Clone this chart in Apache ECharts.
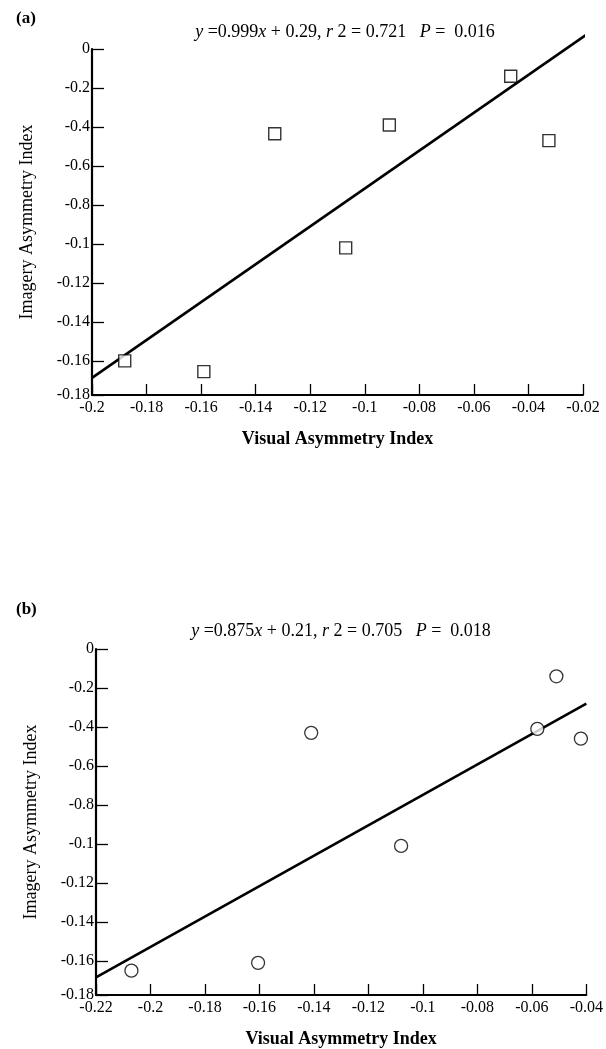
<!DOCTYPE html>
<html>
<head>
<meta charset="utf-8">
<script src="https://cdn.jsdelivr.net/npm/echarts@6/dist/echarts.min.js"></script>
<style>
html,body{margin:0;padding:0;background:#fff;}
#c{width:606px;height:1049px;}
</style>
</head>
<body>
<div id="c"></div>
<script>
// ---- data ----
var panelLabels = ['(a)', '(b)'];
var yTickValues = [0, -0.02, -0.04, -0.06, -0.08, -0.10, -0.12, -0.14, -0.16, -0.1775];
var yTickLabels = ['0', '-0.2', '-0.4', '-0.6', '-0.8', '-0.1', '-0.12', '-0.14', '-0.16', '-0.18'];
var xTickLabelsA = ['-0.2', '-0.18', '-0.16', '-0.14', '-0.12', '-0.1', '-0.08', '-0.06', '-0.04', '-0.02'];
var xTickLabelsB = ['-0.22', '-0.2', '-0.18', '-0.16', '-0.14', '-0.12', '-0.1', '-0.08', '-0.06', '-0.04'];
var xMinA = -0.2, xMaxA = -0.02;
var xMinB = -0.22, xMaxB = -0.04;
var pointsA = [[-0.188, -0.160], [-0.159, -0.1655], [-0.133, -0.0435], [-0.091, -0.039], [-0.107, -0.102], [-0.0465, -0.014], [-0.0325, -0.047]];
var fitA = [[-0.2, -0.1687], [-0.0155, 0.0105]];
var pointsB = [[-0.207, -0.165], [-0.1605, -0.161], [-0.141, -0.043], [-0.108, -0.101], [-0.058, -0.041], [-0.051, -0.014], [-0.042, -0.046]];
var fitB = [[-0.22, -0.1685], [-0.04, -0.028]];
var titles = [
  ['y', ' =0.999', 'x', ' + 0.29, ', 'r', ' 2 = 0.721   ', 'P', ' =  0.016'],
  ['y', ' =0.875', 'x', ' + 0.21, ', 'r', ' 2 = 0.705   ', 'P', ' =  0.018']
];
var xName = 'Visual Asymmetry Index';
var yName = 'Imagery Asymmetry Index';

// ---- chart ----
var FONT = '"Liberation Serif", "DejaVu Serif", serif';
var chart = echarts.init(document.getElementById('c'), null, {renderer: 'canvas'});

function titleText(parts) {
  var s = '';
  for (var i = 0; i < parts.length; i++) {
    s += (i % 2 === 0 ? '{i|' : '{n|') + parts[i] + '}';
  }
  return s;
}
function nearestLabel(v) {
  var best = 0, d = 1e9;
  for (var i = 0; i < yTickValues.length; i++) {
    var dd = Math.abs(yTickValues[i] - v);
    if (dd < d) { d = dd; best = i; }
  }
  return yTickLabels[best];
}
function xLabelFn(labels, min) {
  return function (v) {
    var idx = Math.round((v - min) / 0.02);
    return labels[idx] !== undefined ? labels[idx] : '';
  };
}

var grids = [
  {left: 92, top: 49, width: 491, height: 346},
  {left: 96, top: 649, width: 491, height: 347}
];

function xAxis(gi, min, max, labels) {
  return {
    type: 'value', gridIndex: gi, min: min, max: max, interval: 0.02,
    name: xName, nameLocation: 'middle', nameGap: 35,
    nameTextStyle: {fontFamily: FONT, fontSize: 18, color: '#000', fontWeight: 'bold'},
    axisLine: {show: true, onZero: false, lineStyle: {color: '#000', width: 2}},
    axisTick: {show: true, inside: true, length: 11, lineStyle: {color: '#000', width: 1.3}},
    axisLabel: {show: true, margin: 5, fontFamily: FONT, fontSize: 16, color: '#000', formatter: xLabelFn(labels, min), showMinLabel: true, showMaxLabel: true},
    splitLine: {show: false}
  };
}
function yAxis(gi) {
  return {
    type: 'value', gridIndex: gi, min: -0.1775, max: 0,
    name: yName, nameLocation: 'middle', nameGap: 56, nameRotate: 90,
    nameTextStyle: {fontFamily: FONT, fontSize: 18, color: '#000'},
    axisLine: {show: true, onZero: false, lineStyle: {color: '#000', width: 2.2}},
    axisTick: {show: true, inside: true, length: 12, lineStyle: {color: '#000', width: 1.3}, customValues: yTickValues},
    axisLabel: {show: true, margin: 2, fontFamily: FONT, fontSize: 16, color: '#000', customValues: yTickValues, formatter: nearestLabel},
    splitLine: {show: false}
  };
}

var richStyle = {
  i: {fontFamily: FONT, fontStyle: 'italic', fontWeight: 'normal', fontSize: 18, color: '#000'},
  n: {fontFamily: FONT, fontWeight: 'normal', fontSize: 18, color: '#000'}
};

var option = {
  backgroundColor: '#fff',
  animation: false,
  grid: grids,
  title: [
    {text: titleText(titles[0]), left: 340, top: 18, textAlign: 'center',
     textStyle: {fontWeight: 'normal', rich: richStyle}},
    {text: titleText(titles[1]), left: 336, top: 617, textAlign: 'center',
     textStyle: {fontWeight: 'normal', rich: richStyle}},
    {text: panelLabels[0], left: 11, top: 5, textStyle: {fontFamily: FONT, fontSize: 17, fontWeight: 'bold', color: '#000'}},
    {text: panelLabels[1], left: 11, top: 596, textStyle: {fontFamily: FONT, fontSize: 17, fontWeight: 'bold', color: '#000'}}
  ],
  xAxis: [xAxis(0, xMinA, xMaxA, xTickLabelsA), xAxis(1, xMinB, xMaxB, xTickLabelsB)],
  yAxis: [yAxis(0), yAxis(1)],
  series: [
    {type: 'line', xAxisIndex: 0, yAxisIndex: 0, data: fitA, clip: false, symbol: 'none',
     lineStyle: {color: '#000', width: 2.6}, z: 2},
    {type: 'scatter', xAxisIndex: 0, yAxisIndex: 0, data: pointsA, symbol: 'rect', symbolSize: 12,
     itemStyle: {color: '#fff', borderColor: '#000', borderWidth: 1.4}, z: 3},
    {type: 'line', xAxisIndex: 1, yAxisIndex: 1, data: fitB, clip: false, symbol: 'none',
     lineStyle: {color: '#000', width: 2.6}, z: 2},
    {type: 'scatter', xAxisIndex: 1, yAxisIndex: 1, data: pointsB, symbol: 'circle', symbolSize: 13,
     itemStyle: {color: '#fff', borderColor: '#000', borderWidth: 1.3}, z: 3}
  ]
};
chart.setOption(option);
</script>
</body>
</html>
